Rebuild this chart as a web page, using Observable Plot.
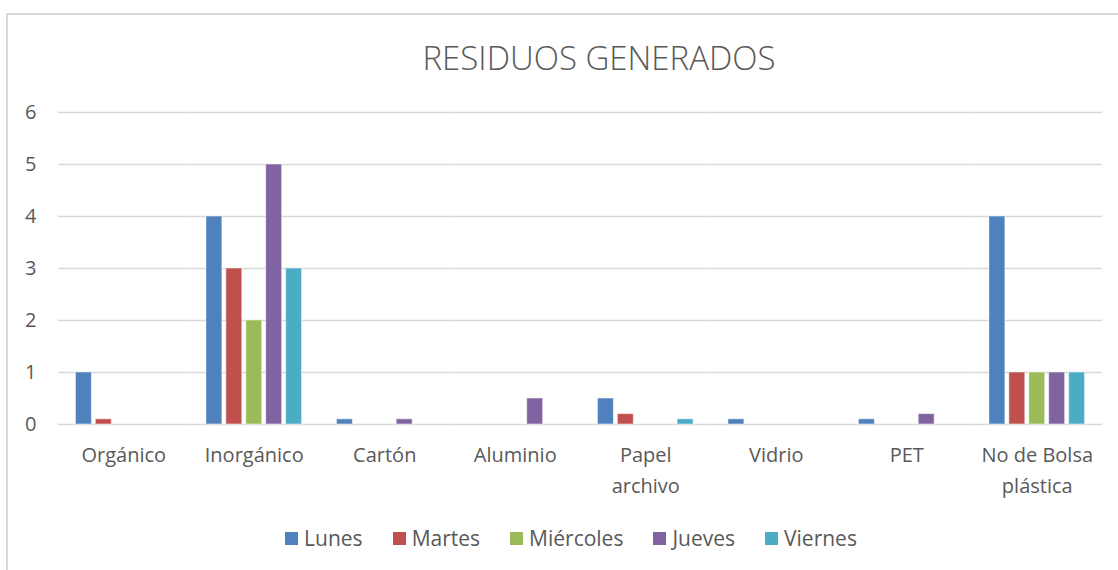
<!DOCTYPE html>
<html>
<head>
<meta charset="utf-8">
<script src="https://cdn.jsdelivr.net/npm/d3@7"></script>
<script src="https://cdn.jsdelivr.net/npm/@observablehq/plot@0.6"></script>
<style>
  html, body { margin: 0; padding: 0; background: #fff; }
  body { width: 1118px; height: 570px; position: relative; overflow: hidden; font-family: "Open Sans", "Liberation Sans", sans-serif; color: #595959; }
  #frame { position: absolute; left: 6px; top: 13px; width: 1120px; height: 600px; border: 2px solid #d9d9d9; box-sizing: border-box; }
  #title { position: absolute; left: 0; top: 36px; width: 1198px; text-align: center; font-size: 33px; font-weight: 300; color: #595959; line-height: 44px; }
  #chart { position: absolute; left: 0; top: 0; }
  #legend { position: absolute; left: 0; top: 523px; width: 1142px; display: flex; justify-content: center; gap: 30px; font-size: 21px; color: #595959; line-height: 30px; }
  .item { display: flex; align-items: center; gap: 6px; }
  .sw { width: 13px; height: 13px; display: inline-block; }
</style>
</head>
<body>
<div id="frame"></div>
<div id="title">RESIDUOS GENERADOS</div>
<div id="chart"></div>
<div id="legend"></div>
<script>
const categories = ["Orgánico", "Inorgánico", "Cartón", "Aluminio", "Papel\narchivo", "Vidrio", "PET", "No de Bolsa\nplástica"];
const days = ["Lunes", "Martes", "Miércoles", "Jueves", "Viernes"];
const colors = ["#4F81BD", "#C0504D", "#9BBB59", "#8064A2", "#4BACC6"];
const lunes     = [1,   4, 0.1, 0,   0.5, 0.1, 0.1, 4];
const martes    = [0.1, 3, 0,   0,   0.2, 0,   0,   1];
const miercoles = [0,   2, 0,   0,   0,   0,   0,   1];
const jueves    = [0,   5, 0.1, 0.5, 0,   0,   0.2, 1];
const viernes   = [0,   3, 0,   0,   0.1, 0,   0,   1];
const yTicks = [0, 1, 2, 3, 4, 5, 6];

const series = [lunes, martes, miercoles, jueves, viernes];
const data = [];
categories.forEach((c, i) => {
  days.forEach((d, j) => {
    data.push({category: c, day: d, value: series[j][i]});
  });
});

const chart = Plot.plot({
  width: 1118,
  height: 510,
  marginTop: 112,
  marginBottom: 86,
  marginLeft: 58,
  marginRight: 16,
  style: {fontFamily: "'Open Sans', sans-serif", fontSize: "20px", color: "#595959", background: "transparent"},
  fx: {domain: categories, padding: 0, round: false, label: null},
  x: {domain: days, paddingInner: 0.2, paddingOuter: 0.875, round: false, axis: null},
  y: {domain: [0, 6], label: null},
  color: {domain: days, range: colors},
  marks: [
    Plot.ruleY(yTicks, {stroke: "#d9d9d9", strokeWidth: 1.5}),
    Plot.barY(data, {fx: "category", x: "day", y: "value", fill: "day", stroke: "#ffffff", strokeOpacity: 0.5, strokeWidth: 1}),
    Plot.axisY(yTicks, {tickSize: 0, tickPadding: 22, tickFormat: d3.format("d"), fill: "#595959", fontSize: 20, label: null}),
    Plot.axisFx({anchor: "bottom", tickSize: 0, tickPadding: 15, fill: "#595959", fontSize: 20, lineHeight: 1.55, label: null})
  ]
});
document.getElementById("chart").appendChild(chart);

const legend = document.getElementById("legend");
days.forEach((d, i) => {
  const it = document.createElement("div");
  it.className = "item";
  const sw = document.createElement("span");
  sw.className = "sw";
  sw.style.background = colors[i];
  const t = document.createElement("span");
  t.textContent = d;
  it.appendChild(sw);
  it.appendChild(t);
  legend.appendChild(it);
});
</script>
</body>
</html>
